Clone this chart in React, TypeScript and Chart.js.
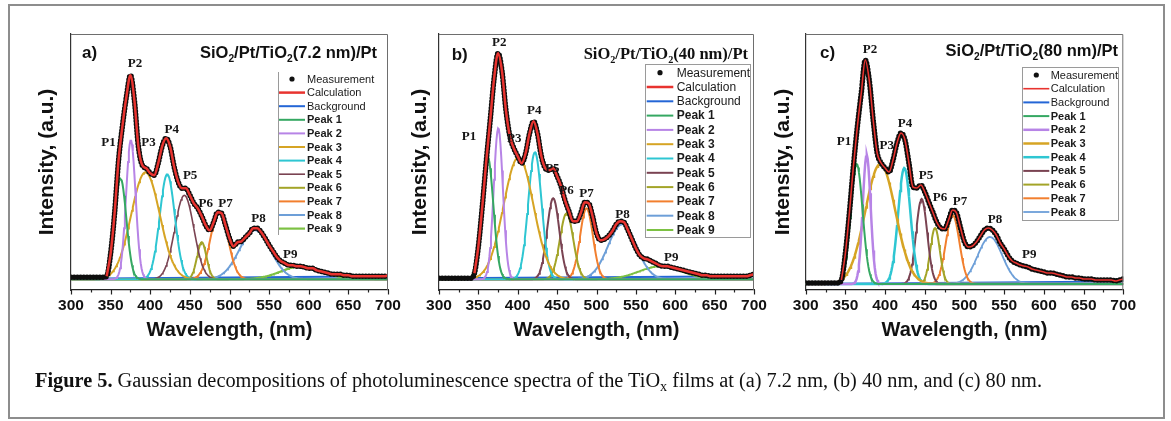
import React, { useEffect, useLayoutEffect, useRef } from 'react';
import { Chart, registerables } from 'chart.js';

Chart.register(...registerables);

const SANS = "'Liberation Sans', Arial, Helvetica, sans-serif";
const SERIF = "'Liberation Serif', 'Times New Roman', serif";

// ---------- data ----------
const xTicks = [300, 350, 400, 450, 500, 550, 600, 650, 700];

// measurement wavelengths (nm), 5 nm steps
const measNm = [
  300, 305, 310, 315, 320, 325, 330, 335, 340, 345,
  350, 355, 360, 365, 370, 375, 380, 385, 390, 395,
  400, 405, 410, 415, 420, 425, 430, 435, 440, 445,
  450, 455, 460, 465, 470, 475, 480, 485, 490, 495,
  500, 505, 510, 515, 520, 525, 530, 535, 540, 545,
  550, 555, 560, 565, 570, 575, 580, 585, 590, 595,
  600, 605, 610, 615, 620, 625, 630, 635, 640, 645,
  650, 655, 660, 665, 670, 675, 680, 685, 690, 695,
  700,
];

// PL intensity (a.u.) for the three films
const measA = [
  2, 2, 2, 2, 2, 2, 2, 2, 2, 3,
  26, 66, 119, 154, 183, 204, 179, 133, 114, 111,
  106, 104, 116, 133, 141, 133, 113, 98, 91, 91,
  84, 76, 71, 63, 54, 49, 57, 67, 66, 54,
  41, 33, 37, 38, 42, 46, 51, 51, 47, 41,
  34, 28, 22, 18, 16, 14, 14, 13, 13, 12,
  11, 11, 9, 8, 7, 6, 5, 5, 5, 4,
  4, 3, 3, 3, 3, 3, 3, 3, 3, 3,
  4,
];
const measB = [
  1, 1, 1, 1, 1, 1, 1, 1, 1, 6,
  33, 73, 118, 159, 201, 226, 208, 169, 143, 131,
  123, 116, 126, 146, 158, 146, 123, 111, 109, 111,
  103, 93, 79, 68, 58, 58, 66, 77, 76, 63,
  46, 39, 40, 43, 48, 55, 58, 57, 49, 40,
  31, 24, 21, 20, 18, 16, 14, 13, 13, 12,
  11, 10, 9, 8, 7, 6, 5, 4, 4, 3,
  3, 3, 3, 3, 3, 3, 3, 3, 3, 4,
  5,
];
const measC = [
  1, 1, 1, 1, 1, 1, 1, 1, 1, 4,
  31, 71, 117, 157, 191, 224, 204, 164, 131, 121,
  116, 112, 124, 141, 151, 144, 121, 97, 96, 99,
  92, 82, 72, 62, 56, 55, 64, 74, 71, 56,
  42, 37, 38, 42, 48, 54, 56, 54, 49, 41,
  35, 28, 23, 21, 19, 18, 17, 15, 14, 13,
  12, 11, 11, 10, 9, 8, 7, 7, 6, 6,
  5, 5, 5, 4, 4, 4, 4, 4, 3, 4,
  5,
];

// linear background (two end points)
const bgNm = [300, 700];
const bgA = [0.5, 3];
const bgB = [1, 3];
const bgC = [0, 2.5];

// Gaussian components: centre (nm), height (a.u.), sigma (nm)
const peakCenterA = [362.5, 375.5, 394, 421.5, 443, 465, 487, 532, 591];
const peakHeightA = [101, 139, 107, 105, 84, 37, 68, 49, 13];
const peakSigmaA = [7.3, 6, 18, 9.5, 12, 6, 11, 19.5, 26];

const peakCenterB = [361.7, 375.3, 401, 421.8, 445, 462, 487.3, 532.6, 581];
const peakHeightB = [123, 151, 122, 127, 81, 66, 71, 55, 13];
const peakSigmaB = [7.3, 5.8, 19, 8.5, 7.8, 8.5, 8.2, 18, 27];

const peakCenterC = [364.2, 376.8, 394, 424.2, 446, 462.9, 485.1, 532.1];
const peakHeightC = [120, 129, 120, 116, 85, 56, 69, 47];
const peakSigmaC = [7.5, 5, 19, 7.8, 7, 6, 8.5, 15.5];

const peakNames = ['Peak 1', 'Peak 2', 'Peak 3', 'Peak 4', 'Peak 5', 'Peak 6', 'Peak 7', 'Peak 8', 'Peak 9'];
const peakTags = ['P1', 'P2', 'P3', 'P4', 'P5', 'P6', 'P7', 'P8', 'P9'];

// peak annotation anchors (nm, a.u.)
const tagNmA = [347.2, 380.8, 397.7, 427.2, 450.3, 470, 495, 536.6, 576.6];
const tagValA = [137, 216, 137, 150, 104, 76, 76, 61, 25];
const tagNmB = [338, 376.5, 395.6, 421, 444, 462, 487.3, 533, 595];
const tagValB = [143, 237, 141, 169, 111, 89, 86, 65, 22];
const tagNmC = [348.3, 381, 402, 425, 451.5, 469.2, 494.3, 538.4, 581.6];
const tagValC = [142, 234, 138, 160, 108, 86, 82, 64, 29];

const titleA = 'SiO₂/Pt/TiO₂(7.2 nm)/Pt';
const titleB = 'SiO₂/Pt/TiO₂(40 nm)/Pt';
const titleC = 'SiO₂/Pt/TiO₂(80 nm)/Pt';

// ---------- styles ----------
const peakColors = ['#35a862', '#b784e6', '#d6a424', '#2ec6d2', '#7a4352', '#a3a428', '#f27f2e', '#6d9fd8', '#7cc143'];

const evalNm = Array.from({ length: 401 }, (_, i) => 300 + i);

function gaussCurve(c: number, h: number, s: number) {
  return evalNm.map((nm) => ({ x: nm, y: h * Math.exp(-((nm - c) * (nm - c)) / (2 * s * s)) }));
}

const SUBS: Record<string, string> = { '₀': '0', '₁': '1', '₂': '2', '₃': '3', 'ₓ': 'x' };

function drawRich(ctx: CanvasRenderingContext2D, text: string, xRight: number, yMid: number, size: number, family: string) {
  const segs: { t: string; sub: boolean; w?: number }[] = [];
  for (const ch of text) {
    const isSub = SUBS[ch] !== undefined;
    const c = isSub ? SUBS[ch] : ch;
    const last = segs[segs.length - 1];
    if (last && last.sub === isSub) last.t += c;
    else segs.push({ t: c, sub: isSub });
  }
  const fontFor = (s: { sub: boolean }) => `bold ${s.sub ? size * 0.62 : size}px ${family}`;
  let total = 0;
  for (const s of segs) {
    ctx.font = fontFor(s);
    s.w = ctx.measureText(s.t).width;
    total += s.w;
  }
  let x = xRight - total;
  ctx.textAlign = 'left';
  ctx.textBaseline = 'alphabetic';
  const base = yMid + size * 0.36;
  for (const s of segs) {
    ctx.font = fontFor(s);
    ctx.fillText(s.t, x, base + (s.sub ? size * 0.25 : 0));
    x += s.w || 0;
  }
}

const decorPlugin = {
  id: 'decor',
  afterDatasetsDraw(chart: any, _args: any, opts: any) {
    const { ctx, chartArea: ca, scales } = chart;
    const xs = scales.x;
    const ys = scales.y;
    ctx.save();
    // top & right frame
    ctx.strokeStyle = '#6e6e6e';
    ctx.lineWidth = 1;
    ctx.beginPath();
    ctx.moveTo(ca.left, ca.top + 0.5);
    ctx.lineTo(ca.right - 0.5, ca.top + 0.5);
    ctx.lineTo(ca.right - 0.5, ca.bottom);
    ctx.stroke();
    // x ticks (major + minor, outward)
    ctx.strokeStyle = '#222';
    ctx.lineWidth = 1.2;
    for (let v = 300; v <= 700; v += 25) {
      const px = Math.round(xs.getPixelForValue(v)) + 0.5;
      const len = v % 50 === 0 ? 4.5 : 2.5;
      ctx.beginPath();
      ctx.moveTo(px, ca.bottom);
      ctx.lineTo(px, ca.bottom + len);
      ctx.stroke();
    }
    // panel letter
    ctx.fillStyle = '#111';
    ctx.font = `bold 17px ${SANS}`;
    ctx.textAlign = 'left';
    ctx.textBaseline = 'middle';
    ctx.fillText(opts.letter, ca.left + opts.letterDx, ca.top + opts.letterDy);
    // title
    drawRich(ctx, opts.title, ca.right - opts.titleDx, ca.top + opts.titleDy, opts.titleSize, opts.titleFamily);
    // peak tags
    ctx.font = `bold 13px ${SERIF}`;
    ctx.textAlign = 'center';
    ctx.textBaseline = 'middle';
    ctx.fillStyle = '#151515';
    opts.tagNm.forEach((nm: number, i: number) => {
      ctx.fillText(peakTags[i], xs.getPixelForValue(nm), ys.getPixelForValue(opts.tagVal[i]));
    });
    // legend
    const lg = opts.legend;
    const ox = ca.left;
    const oy = ca.top;
    ctx.strokeStyle = '#9a9a9a';
    ctx.lineWidth = 1;
    if (lg.style === 'box') {
      ctx.strokeRect(Math.round(ox + lg.x) + 0.5, Math.round(oy + lg.y) + 0.5, lg.w, lg.h);
    } else {
      ctx.beginPath();
      ctx.moveTo(Math.round(ox + lg.x) + 0.5, oy + lg.y);
      ctx.lineTo(Math.round(ox + lg.x) + 0.5, oy + lg.y + lg.h);
      ctx.stroke();
    }
    chart.data.datasets.forEach((ds: any, i: number) => {
      const cy = oy + lg.row0 + i * lg.rowH;
      if (ds.legendKind === 'dot') {
        ctx.fillStyle = '#111';
        ctx.beginPath();
        ctx.arc(ox + (lg.l0 + lg.l1) / 2, cy, 2.6, 0, Math.PI * 2);
        ctx.fill();
      } else {
        ctx.strokeStyle = ds.borderColor;
        ctx.lineWidth = Math.min(ds.borderWidth, 3);
        ctx.beginPath();
        ctx.moveTo(ox + lg.l0, cy);
        ctx.lineTo(ox + lg.l1, cy);
        ctx.stroke();
      }
      ctx.fillStyle = '#1a1a1a';
      ctx.font = `${ds.legendBold ? 'bold ' : ''}${lg.font}px ${SANS}`;
      ctx.textAlign = 'left';
      ctx.textBaseline = 'middle';
      ctx.fillText(ds.label, ox + lg.tx, cy + 0.5);
    });
    ctx.restore();
  },
};

type PanelCfg = {
  id: string;
  meas: number[];
  bg: number[];
  centers: number[];
  heights: number[];
  sigmas: number[];
  tagNm: number[];
  tagVal: number[];
  yMin: number;
  yMax: number;
  padL: number;
  yW: number;
  padR: number;
  calcWidth: number;
  peakWidth: number[];
  letter: string;
  letterDx: number;
  letterDy: number;
  title: string;
  titleFamily: string;
  titleSize: number;
  titleDx: number;
  titleDy: number;
  legend: any;
};

const panels: PanelCfg[] = [
  {
    id: 'a', meas: measA, bg: bgA, centers: peakCenterA, heights: peakHeightA, sigmas: peakSigmaA,
    tagNm: tagNmA, tagVal: tagValA, yMin: -10.7, yMax: 245.3, padL: 34.4, yW: 36.6, padR: 783,
    calcWidth: 2.5, peakWidth: [2, 2, 2, 2, 1.6, 2, 2, 2, 2.2],
    letter: 'a)', letterDx: 11, letterDy: 19, title: titleA, titleFamily: SANS, titleSize: 16.5, titleDx: 11, titleDy: 18,
    legend: { style: 'line', x: 206.7, y: 38, w: 0, h: 163, row0: 45, rowH: 13.6, l0: 208, l1: 234, tx: 236, font: 11 },
  },
  {
    id: 'b', meas: measB, bg: bgB, centers: peakCenterB, heights: peakHeightB, sigmas: peakSigmaB,
    tagNm: tagNmB, tagVal: tagValB, yMin: -10.7, yMax: 245.3, padL: 407.4, yW: 31.6, padR: 417,
    calcWidth: 2.5, peakWidth: [2, 2, 2, 2, 2, 2, 2, 2, 2],
    letter: 'b)', letterDx: 12.7, letterDy: 21, title: titleB, titleFamily: SERIF, titleSize: 16.5, titleDx: 6, titleDy: 19,
    legend: { style: 'box', x: 206, y: 30, w: 105, h: 173, row0: 38.7, rowH: 14.3, l0: 207.7, l1: 234.3, tx: 237.7, font: 12 },
  },
  {
    id: 'c', meas: measC, bg: bgC, centers: peakCenterC, heights: peakHeightC, sigmas: peakSigmaC,
    tagNm: tagNmC, tagVal: tagValC, yMin: -6, yMax: 250, padL: 770.7, yW: 35, padR: 47.7,
    calcWidth: 1.6, peakWidth: [2, 2.5, 2.5, 2.5, 2, 2, 2, 1.8],
    letter: 'c)', letterDx: 14.3, letterDy: 19.7, title: titleC, titleFamily: SANS, titleSize: 16.5, titleDx: 5.3, titleDy: 16,
    legend: { style: 'box', x: 216.6, y: 32.7, w: 96, h: 153, row0: 41, rowH: 13.7, l0: 217.6, l1: 243.6, tx: 245, font: 11 },
  },
];

function buildDatasets(p: PanelCfg) {
  const measPts = measNm.map((nm, i) => ({ x: nm, y: p.meas[i] }));
  const calcPts = measPts.filter((pt) => pt.x >= 345);
  const ds: any[] = [
    {
      label: 'Measurement', legendKind: 'dot', data: measPts, order: 1,
      borderColor: '#0d0d0d', borderWidth: 5.5, borderDash: [0, 3.2], borderCapStyle: 'round',
      pointRadius: 0, cubicInterpolationMode: 'monotone', fill: false,
    },
    {
      label: 'Calculation', data: calcPts, order: 0, borderColor: '#e8332f', borderWidth: p.calcWidth,
      pointRadius: 0, cubicInterpolationMode: 'monotone', fill: false,
    },
    {
      label: 'Background', data: bgNm.map((nm, i) => ({ x: nm, y: p.bg[i] })), order: 3,
      borderColor: '#2466d6', borderWidth: 2, pointRadius: 0, fill: false,
    },
  ];
  p.centers.forEach((c, i) => {
    ds.push({
      label: peakNames[i], legendBold: true, data: gaussCurve(c, p.heights[i], p.sigmas[i]), order: 2,
      borderColor: peakColors[i], borderWidth: p.peakWidth[i], pointRadius: 0, fill: false,
    });
  });
  return ds;
}

function Panel({ cfg }: { cfg: PanelCfg }) {
  const ref = useRef<HTMLCanvasElement>(null);
  useEffect(() => {
    if (!ref.current) return;
    const chart = new Chart(ref.current, {
      type: 'line',
      data: { datasets: buildDatasets(cfg) },
      options: {
        animation: false,
        responsive: false,
        maintainAspectRatio: false,
        layout: { padding: { left: cfg.padL, right: cfg.padR, top: 34, bottom: 79 } },
        scales: {
          x: {
            type: 'linear', min: 300, max: 700,
            afterBuildTicks: (s: any) => { s.ticks = xTicks.map((v) => ({ value: v })); },
            afterFit: (s: any) => { s.height = 52; },
            ticks: { font: { family: SANS, size: 15.5, weight: 'bold' }, color: '#111', padding: 6, maxRotation: 0, autoSkip: false },
            grid: { display: false, drawTicks: false },
            border: { display: true, color: '#222', width: 1.2 },
            title: { display: true, text: 'Wavelength, (nm)', font: { family: SANS, size: 20, weight: 'bold' }, color: '#111', padding: 0 },
          },
          y: {
            type: 'linear', min: cfg.yMin, max: cfg.yMax,
            afterFit: (s: any) => { s.width = cfg.yW; },
            ticks: { display: false },
            grid: { display: false, drawTicks: false },
            border: { display: true, color: '#333', width: 1.2 },
            title: { display: true, text: 'Intensity, (a.u.)', font: { family: SANS, size: 21, weight: 'bold' }, color: '#111', padding: 0 },
          },
        },
        plugins: {
          legend: { display: false },
          tooltip: { enabled: false },
          decor: {
            letter: cfg.letter, letterDx: cfg.letterDx, letterDy: cfg.letterDy,
            title: cfg.title, titleFamily: cfg.titleFamily, titleSize: cfg.titleSize, titleDx: cfg.titleDx, titleDy: cfg.titleDy,
            tagNm: cfg.tagNm, tagVal: cfg.tagVal, legend: cfg.legend,
          },
        } as any,
      },
      plugins: [decorPlugin],
    } as any);
    return () => chart.destroy();
  }, [cfg]);
  return (
    <canvas
      ref={ref}
      width={1171}
      height={421}
      style={{ position: 'absolute', left: 0, top: 0, width: 1171, height: 421, display: 'block' }}
    />
  );
}

function Caption() {
  const ref = useRef<HTMLDivElement>(null);
  useLayoutEffect(() => {
    const el = ref.current;
    if (!el) return;
    el.style.transform = 'none';
    const w = el.getBoundingClientRect().width;
    if (w > 0) el.style.transform = `scaleX(${1007 / w})`;
  }, []);
  return (
    <div
      ref={ref}
      style={{
        position: 'absolute', left: 35, top: 370, whiteSpace: 'nowrap', fontFamily: SERIF,
        fontSize: 20, lineHeight: '20px', color: '#111', transformOrigin: '0 0',
      }}
    >
      <b>Figure 5.</b> Gaussian decompositions of photoluminescence spectra of the TiO
      <sub style={{ fontSize: '0.7em', verticalAlign: '-0.25em', lineHeight: 0 }}>x</sub> films at (a) 7.2 nm, (b) 40 nm, and (c) 80 nm.
    </div>
  );
}

export default function App() {
  return (
    <div style={{ position: 'fixed', left: 0, top: 0, width: 1171, height: 421, background: '#fff', overflow: 'hidden' }}>
      <div
        style={{
          position: 'absolute', left: 8, top: 4, width: 1157, height: 415,
          border: '2px solid #8d8d8d', boxSizing: 'border-box',
        }}
      />
      {panels.map((p) => (
        <Panel key={p.id} cfg={p} />
      ))}
      <Caption />
    </div>
  );
}
